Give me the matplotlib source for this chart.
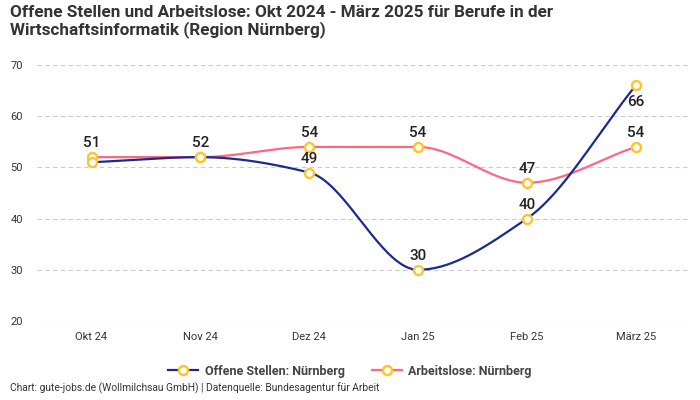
import matplotlib
matplotlib.use('Agg')
import matplotlib.pyplot as plt
import numpy as np
from matplotlib.lines import Line2D

plt.rcParams['font.family'] = ['Roboto', 'DejaVu Sans']

MONTHS = ['Okt 24', 'Nov 24', 'Dez 24', 'Jan 25', 'Feb 25', 'März 25']
OFFENE = [51, 52, 49, 30, 40, 66]
ARBEITSLOSE = [52, 52, 54, 54, 47, 54]

BLUE = '#1b2a8f'
PINK = '#ff6680'
YELLOW = '#ffc42a'


def monotone_curve(y, steps=40):
    # Fritsch-Carlson monotone cubic, only for drawing the smooth line
    y = np.asarray(y, dtype=float)
    x = np.arange(len(y), dtype=float)
    d = np.diff(y)
    m = np.zeros_like(y)
    m[0], m[-1] = d[0], d[-1]
    for i in range(1, len(y) - 1):
        if d[i - 1] * d[i] <= 0:
            m[i] = 0
        else:
            m[i] = 2 / (1 / d[i - 1] + 1 / d[i])
    xs, ys = [], []
    for i in range(len(y) - 1):
        t = np.linspace(0, 1, steps)
        h00 = 2 * t**3 - 3 * t**2 + 1
        h10 = t**3 - 2 * t**2 + t
        h01 = -2 * t**3 + 3 * t**2
        h11 = t**3 - t**2
        xs.append(x[i] + t)
        ys.append(h00 * y[i] + h10 * m[i] + h01 * y[i + 1] + h11 * m[i + 1])
    return np.concatenate(xs), np.concatenate(ys)


fig = plt.figure(figsize=(7, 4), dpi=100)
ax = fig.add_axes([0.053, 0.1975, 0.933, 0.64])

x = np.arange(len(MONTHS))
for vals, col in [(ARBEITSLOSE, PINK), (OFFENE, BLUE)]:
    cx, cy = monotone_curve(vals)
    ax.plot(cx, cy, color=col, lw=1.6, zorder=3)
for vals in [ARBEITSLOSE, OFFENE]:
    ax.plot(x, vals, ls='none', marker='o', ms=6.5, mfc='white', mec=YELLOW, mew=1.7, zorder=4)

# value labels
lbl = dict(fontsize=11, color='#222222', fontweight='medium', zorder=5,
           textcoords='offset points', ha='center')
for i, v in enumerate(OFFENE):
    if i in (0, 1):
        continue  # hidden behind the Arbeitslose label in the original
    if i == len(OFFENE) - 1:
        ax.annotate(str(v), (i, v), xytext=(0, -7), va='top', **lbl)
    else:
        ax.annotate(str(v), (i, v), xytext=(0, 5), va='bottom', **lbl)
for i, v in enumerate(ARBEITSLOSE):
    lab = str(OFFENE[0]) if i == 0 else str(v)
    ax.annotate(lab, (i, v), xytext=(0, 5), va='bottom', **lbl)

ax.set_xlim(-0.5, len(MONTHS) - 0.5)
ax.set_ylim(20, 70)
ax.set_yticks(range(20, 71, 10))
ax.set_xticks(x, MONTHS)
ax.grid(axis='y', ls=(0, (4, 3)), color='#cccccc', lw=0.8)
ax.set_axisbelow(True)
for s in ax.spines.values():
    s.set_visible(False)
ax.tick_params(length=0, labelsize=8, colors='#333333')
ax.tick_params(axis='y', pad=10)
ax.tick_params(axis='x', pad=8)

fig.text(0.014, 0.988, 'Offene Stellen und Arbeitslose: Okt 2024 - März 2025 für Berufe in der\n'
         'Wirtschaftsinformatik (Region Nürnberg)', ha='left', va='top',
         fontsize=12.3, fontweight='bold', color='#333333', linespacing=1.1)

handles = [
    Line2D([], [], color=BLUE, lw=1.6, marker='o', ms=6.5, mfc='white', mec=YELLOW, mew=1.7),
    Line2D([], [], color=PINK, lw=1.6, marker='o', ms=6.5, mfc='white', mec=YELLOW, mew=1.7),
]
leg = fig.legend(handles, ['Offene Stellen: Nürnberg', 'Arbeitslose: Nürnberg'],
                 loc='center', bbox_to_anchor=(0.5, 0.072), ncol=2, frameon=False,
                 handlelength=2.4, columnspacing=2.2, handletextpad=0.5,
                 prop={'size': 9, 'weight': 'bold'})
for t in leg.get_texts():
    t.set_color('#444444')

fig.text(0.014, 0.016, 'Chart: gute-jobs.de (Wollmilchsau GmbH) | Datenquelle: Bundesagentur für Arbeit',
         ha='left', va='bottom', fontsize=7.4, color='#333333')

fig.savefig('out.png', dpi=100)
